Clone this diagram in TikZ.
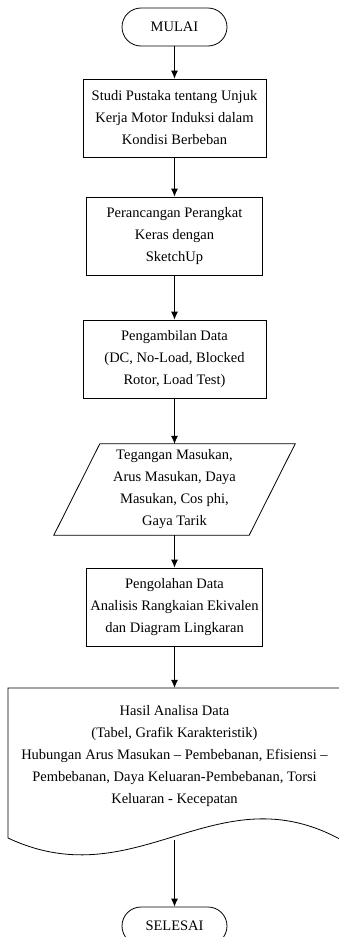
\documentclass[tikz,border=0pt]{standalone}
\usepackage{fontspec}
\setmainfont{Liberation Serif}
\usetikzlibrary{arrows.meta}
\begin{document}
\begin{tikzpicture}[x=1pt,y=-1pt,
  every node/.style={font=\fontsize{14.5}{22}\selectfont, align=center, inner sep=0pt},
  term/.style={draw, line width=0.8pt, rounded corners=19pt, minimum width=105pt, minimum height=38pt},
  procbox/.style={draw, line width=0.8pt, minimum height=78pt},
  conn/.style={line width=0.8pt, -{Latex[length=8pt,width=7pt]}},
  outline/.style={line width=0.8pt}]
\useasboundingbox (0,0) rectangle (339,937);
\node[term] (start) at (174.5,27) {MULAI};
\node[procbox, minimum width=183pt] (b1) at (174.5,118) {Studi Pustaka tentang Unjuk\\Kerja Motor Induksi dalam\\Kondisi Berbeban};
\node[procbox, minimum width=176pt] (b2) at (174.5,236) {Perancangan Perangkat\\Keras dengan\\SketchUp};
\node[procbox, minimum width=183pt] (b3) at (174.5,359) {Pengambilan Data\\(DC, No-Load, Blocked\\Rotor, Load Test)};
\node[minimum width=241pt, minimum height=91pt] (p) at (174.5,489.5) {Tegangan Masukan,\\Arus Masukan, Daya\\Masukan, Cos phi,\\Gaya Tarik};
\draw[outline] ([xshift=46pt]p.north west) -- (p.north east) -- ([xshift=-46pt]p.south east) -- (p.south west) -- cycle;
\node[procbox, minimum width=176pt] (b5) at (174.5,607) {Pengolahan Data\\Analisis Rangkaian Ekivalen\\dan Diagram Lingkaran};
\node[minimum height=136pt] (doc) at (174.5,756) {Hasil Analisa Data\\(Tabel, Grafik Karakteristik)\\Hubungan Arus Masukan -- Pembebanan, Efisiensi --\\Pembebanan, Daya Keluaran-Pembebanan, Torsi\\Keluaran - Kecepatan};
\draw[outline] (350,688) -- (8,688) -- (8,838) .. controls (140,900) and (220,765) .. (350,845);
\coordinate (wave) at (174.5,840.3);
\node[term] (stop) at (174.5,926) {SELESAI};
\draw[conn] (start) -- (b1);
\draw[conn] (b1) -- (b2);
\draw[conn] (b2) -- (b3);
\draw[conn] (b3) -- (p);
\draw[conn] (p) -- (b5);
\draw[conn] (b5) -- (doc.north);
\draw[conn] (wave) -- (stop);
\end{tikzpicture}
\end{document}
